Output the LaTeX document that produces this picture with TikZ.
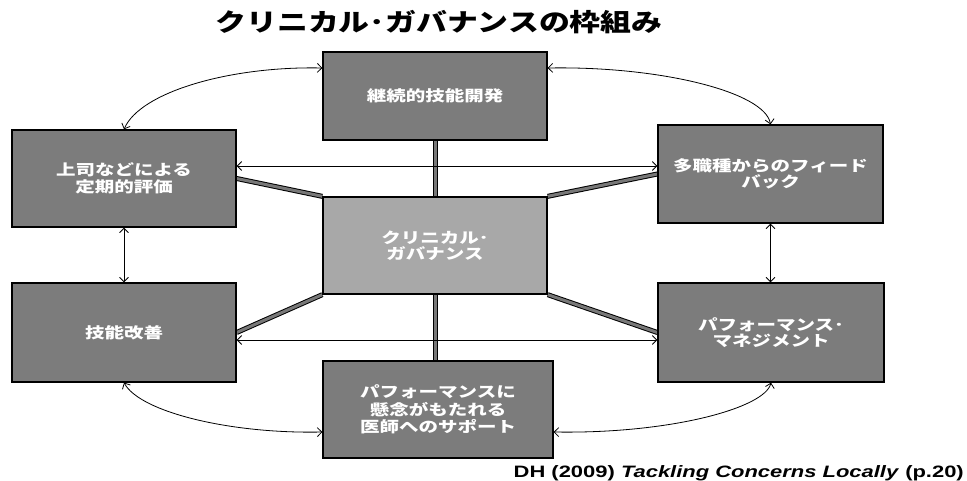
\documentclass[tikz,border=0pt]{standalone}
\usepackage{fontspec}
\usetikzlibrary{arrows.meta,calc}
\newfontfamily\jpbox{Noto Sans CJK JP}[FakeStretch=1.3]
\newfontfamily\jptitle{Noto Sans CJK JP}[FakeStretch=1.25]
\newfontfamily\srcfont{Liberation Sans}[FakeStretch=1.33]
\definecolor{boxgray}{HTML}{7C7C7C}
\definecolor{ctrgray}{HTML}{A8A8A8}
\definecolor{spokegray}{HTML}{787878}
\pgfdeclarelayer{background}
\pgfsetlayers{background,main}
\tikzset{
  box/.style={draw=black, line width=1.3pt, fill=boxgray, inner sep=0pt,
    text=white, align=center, font=\jpbox\bfseries\fontsize{15}{16.5}\selectfont},
  ctrbox/.style={box, fill=ctrgray},
  conn/.style={draw=black, line width=0.8pt,
    {Straight Barb[length=4.5pt,width=9pt]}-{Straight Barb[length=4.5pt,width=9pt]}},
  spoke/.style={draw=black, line width=1pt, double=spokegray, double distance=3pt}
}
\begin{document}
\begin{tikzpicture}[x=1pt,y=-1pt]
\useasboundingbox (0,0) rectangle (967,481);
\node[font=\jptitle\bfseries\fontsize{24.7}{26}\selectfont] (title) at (439,22) {クリニカル･ガバナンスの枠組み};
\node[box, minimum width=224pt, minimum height=88pt] (top) at (435,96) {継続的技能開発};
\node[box, minimum width=224pt, minimum height=97pt] (lt) at (124,178.5) {上司などによる\\定期的評価};
\node[box, minimum width=225pt, minimum height=98pt] (rt) at (770.5,174) {多職種からのフィード\\バック};
\node[ctrbox, minimum width=224pt, minimum height=97pt] (ctr) at (435,245.5) {クリニカル･\\ガバナンス};
\node[box, minimum width=224pt, minimum height=99pt] (lb) at (124,332.5) {技能改善};
\node[box, minimum width=226pt, minimum height=99pt] (rb) at (771,332.5) {パフォーマンス･\\マネジメント};
\node[box, minimum width=230pt, minimum height=97pt, font=\jpbox\bfseries\fontsize{15}{17.5}\selectfont] (bot) at (438,409.5) {パフォーマンスに\\懸念がもたれる\\医師へのサポート};
\node[anchor=base east, inner sep=0pt, font=\srcfont\bfseries\fontsize{16.5}{18}\selectfont] (src) at (964,477) {DH (2009) \textit{Tackling Concerns Locally} (p.20)};
\begin{pgfonlayer}{background}
  % spokes
  \draw[spoke] (top.south) -- (ctr.north);
  \draw[spoke] (ctr.south) -- (ctr.south |- bot.north);
  \draw[spoke] (ctr.north west) -- (lt.east);
  \draw[spoke] (ctr.north east) -- (rt.west);
  \draw[spoke] (ctr.south west) -- (lb.east);
  \draw[spoke] (ctr.south east) -- (rb.west);
  % straight arrows
  \draw[conn] ([yshift=12.5pt]lt.east) -- ([yshift=12.5pt]lt.east -| rt.west);
  \draw[conn] ([yshift=-7.5pt]lb.east) -- ([yshift=-7.5pt]lb.east -| rb.west);
  \draw[conn] (lt.south) -- (lb.north);
  \draw[conn] (rt.south) -- (rt.south |- rb.north);
  % curved arrows
  \draw[conn] (lt.north) .. controls (140,92) and (230,66) .. ([yshift=28pt]top.west);
  \draw[conn] ([yshift=28pt]top.east) .. controls (660,66) and (765,92) .. (rt.north);
  \draw[conn] (lb.south) .. controls (140,412) and (230,434) .. ([yshift=-22.5pt]bot.west);
  \draw[conn] ([yshift=-22.5pt]bot.east) .. controls (670,434) and (765,408) .. (rb.south);
\end{pgfonlayer}
\end{tikzpicture}
\end{document}
